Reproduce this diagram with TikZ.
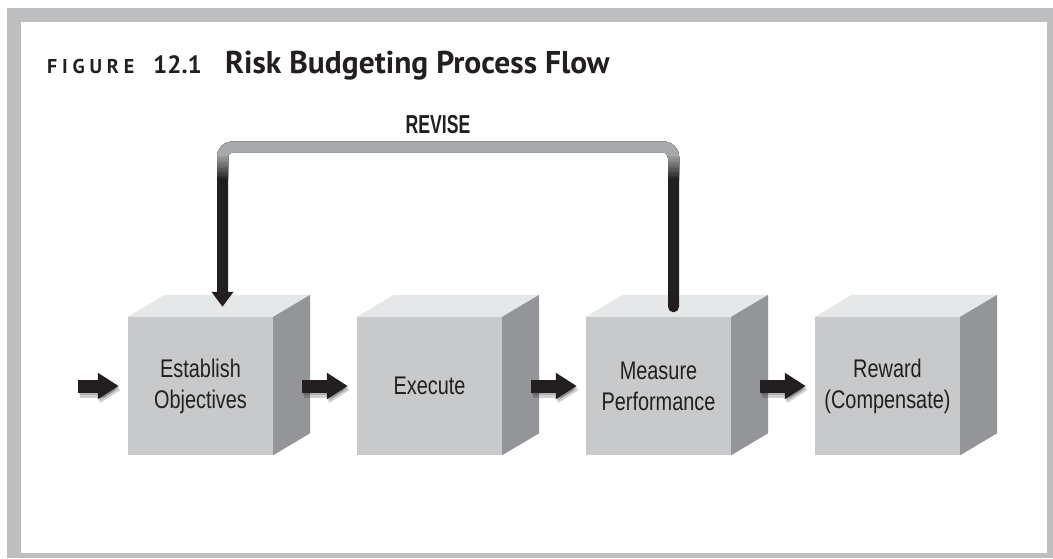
\documentclass[tikz,border=0pt]{standalone}
\usepackage{fontspec}
\setmainfont{PT Sans}
\newfontfamily\boxfont[FakeStretch=0.78]{Liberation Sans}
\newfontfamily\revfont[FakeStretch=0.68]{Liberation Sans}
\usepackage{tikz}
\usetikzlibrary{arrows.meta,positioning}

\definecolor{framegray}{RGB}{188,190,192}
\definecolor{frontgray}{RGB}{200,201,203}
\definecolor{topgray}{RGB}{230,231,232}
\definecolor{sidegray}{RGB}{147,149,152}
\definecolor{loopgray}{RGB}{167,169,172}
\definecolor{inkblack}{RGB}{35,31,32}

\begin{document}
\begin{tikzpicture}[x=1pt,y=-1pt,
    cubefront/.style={fill=frontgray, minimum width=145pt, minimum height=138pt,
      inner sep=0pt, align=center, text=inkblack,
      font=\boxfont\fontsize{25.5}{31}\selectfont},
    cubetop/.style={fill=topgray},
    cubeside/.style={fill=sidegray},
    flow/.style={line width=13pt, draw=inkblack, -{Triangle[width=25pt,length=21pt]},
      preaction={draw=black, opacity=.18, line width=16pt,
        transform canvas={xshift=2pt,yshift=-4pt}},
      preaction={draw=black, opacity=.15, line width=13pt,
        transform canvas={xshift=1pt,yshift=-2pt}}},
    loopline/.style={line width=11pt, rounded corners=10pt, line cap=round},
    titletext/.style={anchor=base west, inner sep=0pt, text=inkblack}]
    \useasboundingbox (0,0) rectangle (1053,558);

    % frame
    \fill[framegray] (7,8) rectangle (1053,558);
    \fill[white] (21,22) rectangle (1047,553);

    % title
    \node[titletext, font=\bfseries\fontsize{20}{20}\selectfont\addfontfeature{LetterSpace=24}] (fig) at (47,73) {FIGURE};
    \node[titletext, font=\bfseries\fontsize{25}{25}\selectfont] (num) at (153,73) {12.1};
    \node[titletext, font=\bfseries\fontsize{31.5}{31.5}\selectfont] (ttl) at (225,73) {Risk Budgeting Process Flow};

    % boxes
    \node[cubefront] (est) at (200.5,386) {Establish\\Objectives};
    \node[cubefront] (exe) at (429.5,386) {Execute};
    \node[cubefront] (mea) at (658.5,386) {Measure\\Performance};
    \node[cubefront] (rew) at (887.5,386) {Reward\\(Compensate)};

    \foreach \b in {est,exe,mea,rew}{
      \fill[cubetop] (\b.north west) -- ++(37,-22) -- ([shift={(37,-22)}]\b.north east) -- (\b.north east) -- cycle;
      \fill[cubeside] (\b.north east) -- ++(37,-22) -- ([shift={(37,-22)}]\b.south east) -- (\b.south east) -- cycle;
    }

    % flow arrows
    \coordinate (in) at (78,386);
    \draw[flow] (in) -- ([xshift=-9pt]est.west);
    \draw[flow] ([xshift=29pt]est.east) -- ([xshift=-9pt]exe.west);
    \draw[flow] ([xshift=29pt]exe.east) -- ([xshift=-9pt]mea.west);
    \draw[flow] ([xshift=29pt]mea.east) -- ([xshift=-9pt]rew.west);

    % revise loop
    \node[font=\revfont\bfseries\fontsize{26}{26}\selectfont, text=inkblack] (rev) at (438,125) {REVISE};
    \coordinate (lp) at (438,147);
    \coordinate (mtop) at ([shift={(15,-10)}]mea.north);
    \coordinate (etop) at ([shift={(22,-10)}]est.north);
    \draw[loopline, draw=inkblack, -{Triangle[width=21pt,length=15pt]}]
      (mtop) -- (mtop |- lp) -- (etop |- lp) -- (etop);
    \foreach \i [evaluate=\i as \p using int(10*\i)] in {10,...,0}{
      \begin{scope}
        \clip (0,0) rectangle (1053,155+2.5*\i);
        \draw[loopline, draw=inkblack!\p!loopgray]
          (mtop) -- (mtop |- lp) -- (etop |- lp) -- ([yshift=20pt]etop);
      \end{scope}
    }
\end{tikzpicture}
\end{document}
